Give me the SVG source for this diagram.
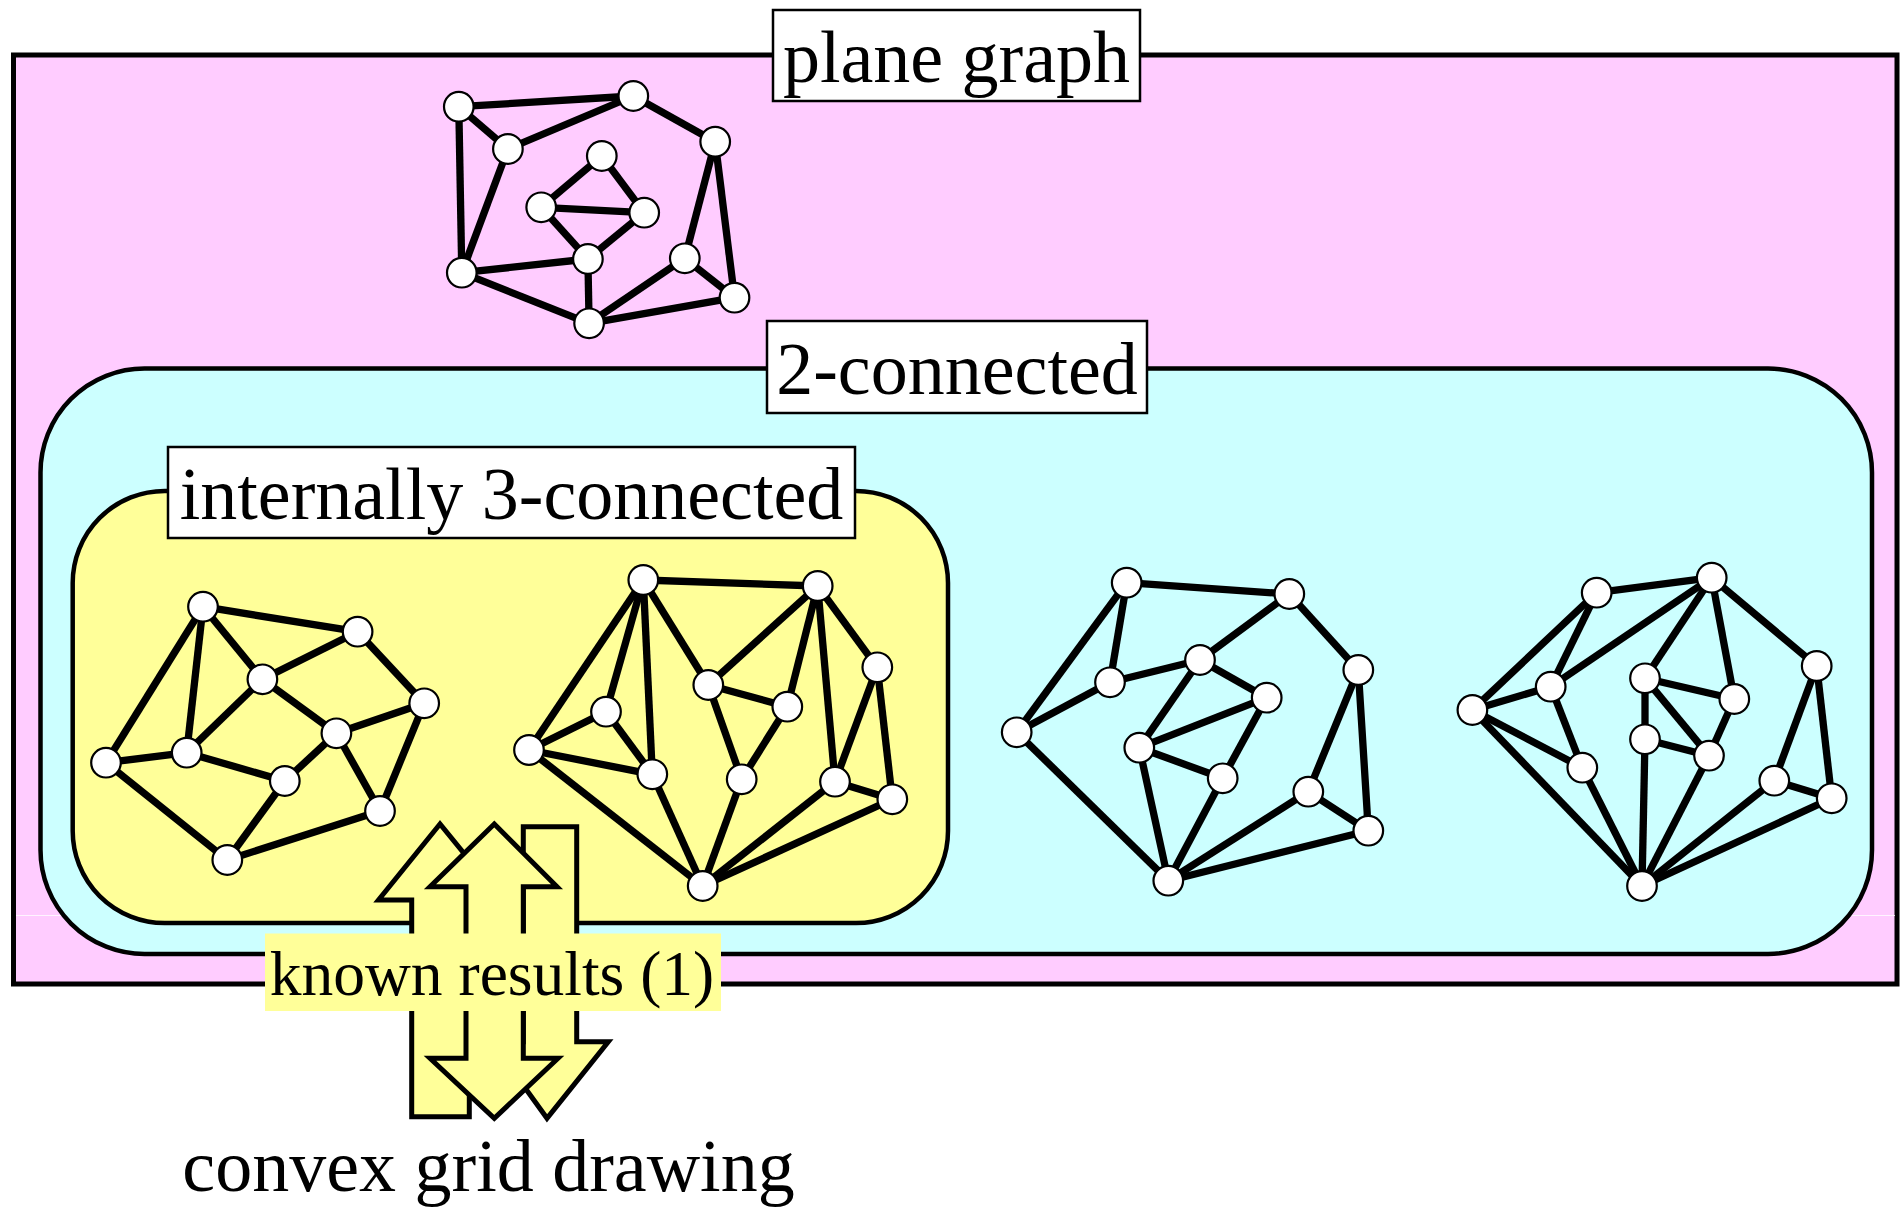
<svg xmlns="http://www.w3.org/2000/svg" width="1901" height="1208" viewBox="0 0 1901 1208">
  <style>
    .region { stroke: #000; }
    .label-box { fill: #fff; stroke: #000; stroke-width: 2.5; }
    .label { font-family: "Liberation Serif", "Times New Roman", serif; font-size: 74px; fill: #000; text-anchor: middle; }
    .e { stroke: #000; stroke-width: 7.3; fill: none; }
    .v { fill: #fff; stroke: #000; stroke-width: 2.2; }
    .arrow { fill: #ffff99; stroke: #000; stroke-width: 5; stroke-linejoin: miter; }
  </style>

  <!-- nested class regions -->
  <rect id="region-plane" class="region" x="13.5" y="55" width="1883.5" height="929" fill="#ffccff" stroke-width="5"/>
  <line x1="16" y1="915.5" x2="1895" y2="915.5" stroke="#ffffff" stroke-width="1" opacity="0.8"/>

  <!-- plane graph -->
  <g id="graph-plane">
    <g id="graph-plane-edges">
      <line class="e" x1="458.8" y1="106.7" x2="633.3" y2="96"/>
      <line class="e" x1="458.8" y1="106.7" x2="507.9" y2="149"/>
      <line class="e" x1="507.9" y1="149" x2="633.3" y2="96"/>
      <line class="e" x1="633.3" y1="96" x2="715.2" y2="141.7"/>
      <line class="e" x1="458.8" y1="106.7" x2="461.8" y2="272.7"/>
      <line class="e" x1="507.9" y1="149" x2="461.8" y2="272.7"/>
      <line class="e" x1="601.8" y1="156" x2="541.2" y2="207.3"/>
      <line class="e" x1="601.8" y1="156" x2="644.2" y2="212.7"/>
      <line class="e" x1="541.2" y1="207.3" x2="644.2" y2="212.7"/>
      <line class="e" x1="541.2" y1="207.3" x2="587.9" y2="259"/>
      <line class="e" x1="644.2" y1="212.7" x2="587.9" y2="259"/>
      <line class="e" x1="461.8" y1="272.7" x2="587.9" y2="259"/>
      <line class="e" x1="461.8" y1="272.7" x2="589.1" y2="323.3"/>
      <line class="e" x1="587.9" y1="259" x2="589.1" y2="323.3"/>
      <line class="e" x1="589.1" y1="323.3" x2="684.8" y2="258.3"/>
      <line class="e" x1="589.1" y1="323.3" x2="734.5" y2="297.7"/>
      <line class="e" x1="684.8" y1="258.3" x2="715.2" y2="141.7"/>
      <line class="e" x1="715.2" y1="141.7" x2="734.5" y2="297.7"/>
      <line class="e" x1="684.8" y1="258.3" x2="734.5" y2="297.7"/>
    </g>
    <g id="pg-n1"><circle class="v" cx="458.8" cy="106.7" r="14.8"/></g>
    <g id="pg-n2"><circle class="v" cx="633.3" cy="96" r="14.8"/></g>
    <g id="pg-n3"><circle class="v" cx="507.9" cy="149" r="14.8"/></g>
    <g id="pg-n4"><circle class="v" cx="715.2" cy="141.7" r="14.8"/></g>
    <g id="pg-n5"><circle class="v" cx="601.8" cy="156" r="14.8"/></g>
    <g id="pg-n6"><circle class="v" cx="541.2" cy="207.3" r="14.8"/></g>
    <g id="pg-n7"><circle class="v" cx="644.2" cy="212.7" r="14.8"/></g>
    <g id="pg-n8"><circle class="v" cx="587.9" cy="259" r="14.8"/></g>
    <g id="pg-n9"><circle class="v" cx="461.8" cy="272.7" r="14.8"/></g>
    <g id="pg-n10"><circle class="v" cx="684.8" cy="258.3" r="14.8"/></g>
    <g id="pg-n11"><circle class="v" cx="734.5" cy="297.7" r="14.8"/></g>
    <g id="pg-n12"><circle class="v" cx="589.1" cy="323.3" r="14.8"/></g>
  </g>

  <rect id="region-2conn" class="region" x="40.5" y="368.5" width="1831.5" height="585.5" rx="104" ry="104" fill="#ccffff" stroke-width="4.5"/>
  <rect id="region-int3" class="region" x="72.7" y="491" width="875.3" height="432" rx="92" ry="92" fill="#ffff99" stroke-width="4.5"/>

  <!-- internally 3-connected example 1 -->
  <g id="graph-a">
    <g id="graph-a-edges">
      <line class="e" x1="203" y1="606.7" x2="357.6" y2="631.7"/>
      <line class="e" x1="203" y1="606.7" x2="106" y2="762.7"/>
      <line class="e" x1="203" y1="606.7" x2="186.7" y2="752.7"/>
      <line class="e" x1="203" y1="606.7" x2="262.4" y2="679.3"/>
      <line class="e" x1="357.6" y1="631.7" x2="262.4" y2="679.3"/>
      <line class="e" x1="357.6" y1="631.7" x2="424.2" y2="703.3"/>
      <line class="e" x1="262.4" y1="679.3" x2="186.7" y2="752.7"/>
      <line class="e" x1="262.4" y1="679.3" x2="336.4" y2="733.3"/>
      <line class="e" x1="336.4" y1="733.3" x2="424.2" y2="703.3"/>
      <line class="e" x1="336.4" y1="733.3" x2="284.8" y2="781"/>
      <line class="e" x1="336.4" y1="733.3" x2="380" y2="811"/>
      <line class="e" x1="424.2" y1="703.3" x2="380" y2="811"/>
      <line class="e" x1="106" y1="762.7" x2="186.7" y2="752.7"/>
      <line class="e" x1="186.7" y1="752.7" x2="284.8" y2="781"/>
      <line class="e" x1="106" y1="762.7" x2="227.3" y2="860"/>
      <line class="e" x1="284.8" y1="781" x2="227.3" y2="860"/>
      <line class="e" x1="227.3" y1="860" x2="380" y2="811"/>
    </g>
    <g id="ga-n1"><circle class="v" cx="203" cy="606.7" r="14.8"/></g>
    <g id="ga-n2"><circle class="v" cx="357.6" cy="631.7" r="14.8"/></g>
    <g id="ga-n3"><circle class="v" cx="262.4" cy="679.3" r="14.8"/></g>
    <g id="ga-n4"><circle class="v" cx="424.2" cy="703.3" r="14.8"/></g>
    <g id="ga-n5"><circle class="v" cx="336.4" cy="733.3" r="14.8"/></g>
    <g id="ga-n6"><circle class="v" cx="186.7" cy="752.7" r="14.8"/></g>
    <g id="ga-n7"><circle class="v" cx="106" cy="762.7" r="14.8"/></g>
    <g id="ga-n8"><circle class="v" cx="284.8" cy="781" r="14.8"/></g>
    <g id="ga-n9"><circle class="v" cx="380" cy="811" r="14.8"/></g>
    <g id="ga-n10"><circle class="v" cx="227.3" cy="860" r="14.8"/></g>
  </g>

  <!-- internally 3-connected example 2 -->
  <g id="graph-b">
    <g id="graph-b-edges">
      <line class="e" x1="643.3" y1="580" x2="817.7" y2="586"/>
      <line class="e" x1="643.3" y1="580" x2="529" y2="750"/>
      <line class="e" x1="643.3" y1="580" x2="606" y2="711.7"/>
      <line class="e" x1="643.3" y1="580" x2="652.3" y2="774.3"/>
      <line class="e" x1="643.3" y1="580" x2="708.3" y2="685"/>
      <line class="e" x1="817.7" y1="586" x2="708.3" y2="685"/>
      <line class="e" x1="817.7" y1="586" x2="787.3" y2="706.7"/>
      <line class="e" x1="817.7" y1="586" x2="835" y2="781.7"/>
      <line class="e" x1="817.7" y1="586" x2="877.3" y2="667.3"/>
      <line class="e" x1="877.3" y1="667.3" x2="835" y2="781.7"/>
      <line class="e" x1="877.3" y1="667.3" x2="892.3" y2="799.3"/>
      <line class="e" x1="835" y1="781.7" x2="892.3" y2="799.3"/>
      <line class="e" x1="708.3" y1="685" x2="787.3" y2="706.7"/>
      <line class="e" x1="708.3" y1="685" x2="741.7" y2="779.3"/>
      <line class="e" x1="787.3" y1="706.7" x2="741.7" y2="779.3"/>
      <line class="e" x1="606" y1="711.7" x2="529" y2="750"/>
      <line class="e" x1="606" y1="711.7" x2="652.3" y2="774.3"/>
      <line class="e" x1="529" y1="750" x2="652.3" y2="774.3"/>
      <line class="e" x1="529" y1="750" x2="702.7" y2="886"/>
      <line class="e" x1="652.3" y1="774.3" x2="702.7" y2="886"/>
      <line class="e" x1="741.7" y1="779.3" x2="702.7" y2="886"/>
      <line class="e" x1="835" y1="781.7" x2="702.7" y2="886"/>
      <line class="e" x1="892.3" y1="799.3" x2="702.7" y2="886"/>
    </g>
    <g id="gb-n1"><circle class="v" cx="643.3" cy="580" r="14.8"/></g>
    <g id="gb-n2"><circle class="v" cx="817.7" cy="586" r="14.8"/></g>
    <g id="gb-n3"><circle class="v" cx="877.3" cy="667.3" r="14.8"/></g>
    <g id="gb-n4"><circle class="v" cx="708.3" cy="685" r="14.8"/></g>
    <g id="gb-n5"><circle class="v" cx="787.3" cy="706.7" r="14.8"/></g>
    <g id="gb-n6"><circle class="v" cx="606" cy="711.7" r="14.8"/></g>
    <g id="gb-n7"><circle class="v" cx="529" cy="750" r="14.8"/></g>
    <g id="gb-n8"><circle class="v" cx="652.3" cy="774.3" r="14.8"/></g>
    <g id="gb-n9"><circle class="v" cx="741.7" cy="779.3" r="14.8"/></g>
    <g id="gb-n10"><circle class="v" cx="835" cy="781.7" r="14.8"/></g>
    <g id="gb-n11"><circle class="v" cx="892.3" cy="799.3" r="14.8"/></g>
    <g id="gb-n12"><circle class="v" cx="702.7" cy="886" r="14.8"/></g>
  </g>

  <!-- 2-connected example 1 -->
  <g id="graph-c">
    <g id="graph-c-edges">
      <line class="e" x1="1126.7" y1="582.7" x2="1289.3" y2="594"/>
      <line class="e" x1="1126.7" y1="582.7" x2="1110" y2="682.3"/>
      <line class="e" x1="1126.7" y1="582.7" x2="1016.7" y2="732.3"/>
      <line class="e" x1="1110" y1="682.3" x2="1016.7" y2="732.3"/>
      <line class="e" x1="1110" y1="682.3" x2="1200" y2="660"/>
      <line class="e" x1="1200" y1="660" x2="1289.3" y2="594"/>
      <line class="e" x1="1289.3" y1="594" x2="1358.3" y2="670"/>
      <line class="e" x1="1200" y1="660" x2="1266.7" y2="697.7"/>
      <line class="e" x1="1200" y1="660" x2="1139.3" y2="747.7"/>
      <line class="e" x1="1139.3" y1="747.7" x2="1266.7" y2="697.7"/>
      <line class="e" x1="1139.3" y1="747.7" x2="1222.7" y2="778.3"/>
      <line class="e" x1="1266.7" y1="697.7" x2="1222.7" y2="778.3"/>
      <line class="e" x1="1139.3" y1="747.7" x2="1168.3" y2="880.7"/>
      <line class="e" x1="1222.7" y1="778.3" x2="1168.3" y2="880.7"/>
      <line class="e" x1="1016.7" y1="732.3" x2="1168.3" y2="880.7"/>
      <line class="e" x1="1358.3" y1="670" x2="1308.3" y2="791.7"/>
      <line class="e" x1="1358.3" y1="670" x2="1368.3" y2="830.7"/>
      <line class="e" x1="1308.3" y1="791.7" x2="1368.3" y2="830.7"/>
      <line class="e" x1="1308.3" y1="791.7" x2="1168.3" y2="880.7"/>
      <line class="e" x1="1368.3" y1="830.7" x2="1168.3" y2="880.7"/>
    </g>
    <g id="gc-n1"><circle class="v" cx="1126.7" cy="582.7" r="14.8"/></g>
    <g id="gc-n2"><circle class="v" cx="1289.3" cy="594" r="14.8"/></g>
    <g id="gc-n3"><circle class="v" cx="1358.3" cy="670" r="14.8"/></g>
    <g id="gc-n4"><circle class="v" cx="1200" cy="660" r="14.8"/></g>
    <g id="gc-n5"><circle class="v" cx="1110" cy="682.3" r="14.8"/></g>
    <g id="gc-n6"><circle class="v" cx="1266.7" cy="697.7" r="14.8"/></g>
    <g id="gc-n7"><circle class="v" cx="1016.7" cy="732.3" r="14.8"/></g>
    <g id="gc-n8"><circle class="v" cx="1139.3" cy="747.7" r="14.8"/></g>
    <g id="gc-n9"><circle class="v" cx="1222.7" cy="778.3" r="14.8"/></g>
    <g id="gc-n10"><circle class="v" cx="1308.3" cy="791.7" r="14.8"/></g>
    <g id="gc-n11"><circle class="v" cx="1368.3" cy="830.7" r="14.8"/></g>
    <g id="gc-n12"><circle class="v" cx="1168.3" cy="880.7" r="14.8"/></g>
  </g>

  <!-- 2-connected example 2 -->
  <g id="graph-d">
    <g id="graph-d-edges">
      <line class="e" x1="1596.7" y1="592.7" x2="1711.7" y2="577.7"/>
      <line class="e" x1="1596.7" y1="592.7" x2="1550.7" y2="686.7"/>
      <line class="e" x1="1596.7" y1="592.7" x2="1472.4" y2="710"/>
      <line class="e" x1="1711.7" y1="577.7" x2="1550.7" y2="686.7"/>
      <line class="e" x1="1711.7" y1="577.7" x2="1645" y2="678.3"/>
      <line class="e" x1="1711.7" y1="577.7" x2="1734.3" y2="699"/>
      <line class="e" x1="1711.7" y1="577.7" x2="1816.7" y2="666"/>
      <line class="e" x1="1645" y1="678.3" x2="1734.3" y2="699"/>
      <line class="e" x1="1645" y1="678.3" x2="1709" y2="755.7"/>
      <line class="e" x1="1645" y1="678.3" x2="1645" y2="739.3"/>
      <line class="e" x1="1645" y1="739.3" x2="1709" y2="755.7"/>
      <line class="e" x1="1734.3" y1="699" x2="1709" y2="755.7"/>
      <line class="e" x1="1550.7" y1="686.7" x2="1582.3" y2="767.7"/>
      <line class="e" x1="1472.4" y1="710" x2="1550.7" y2="686.7"/>
      <line class="e" x1="1472.4" y1="710" x2="1582.3" y2="767.7"/>
      <line class="e" x1="1472.4" y1="710" x2="1642" y2="886"/>
      <line class="e" x1="1582.3" y1="767.7" x2="1642" y2="886"/>
      <line class="e" x1="1645" y1="739.3" x2="1642" y2="886"/>
      <line class="e" x1="1709" y1="755.7" x2="1642" y2="886"/>
      <line class="e" x1="1816.7" y1="666" x2="1774.3" y2="780.7"/>
      <line class="e" x1="1816.7" y1="666" x2="1831.7" y2="798.3"/>
      <line class="e" x1="1774.3" y1="780.7" x2="1831.7" y2="798.3"/>
      <line class="e" x1="1774.3" y1="780.7" x2="1642" y2="886"/>
      <line class="e" x1="1831.7" y1="798.3" x2="1642" y2="886"/>
    </g>
    <g id="gd-n1"><circle class="v" cx="1596.7" cy="592.7" r="14.8"/></g>
    <g id="gd-n2"><circle class="v" cx="1711.7" cy="577.7" r="14.8"/></g>
    <g id="gd-n3"><circle class="v" cx="1816.7" cy="666" r="14.8"/></g>
    <g id="gd-n4"><circle class="v" cx="1645" cy="678.3" r="14.8"/></g>
    <g id="gd-n5"><circle class="v" cx="1550.7" cy="686.7" r="14.8"/></g>
    <g id="gd-n6"><circle class="v" cx="1734.3" cy="699" r="14.8"/></g>
    <g id="gd-n7"><circle class="v" cx="1472.4" cy="710" r="14.8"/></g>
    <g id="gd-n8"><circle class="v" cx="1645" cy="739.3" r="14.8"/></g>
    <g id="gd-n9"><circle class="v" cx="1709" cy="755.7" r="14.8"/></g>
    <g id="gd-n10"><circle class="v" cx="1582.3" cy="767.7" r="14.8"/></g>
    <g id="gd-n11"><circle class="v" cx="1774.3" cy="780.7" r="14.8"/></g>
    <g id="gd-n12"><circle class="v" cx="1831.7" cy="798.3" r="14.8"/></g>
    <g id="gd-n13"><circle class="v" cx="1642" cy="886" r="14.8"/></g>
  </g>

  <!-- region labels -->
  <g id="label-plane">
    <rect class="label-box" x="773" y="10" width="367" height="91"/>
    <text class="label" x="956.5" y="82">plane graph</text>
  </g>
  <g id="label-2conn">
    <rect class="label-box" x="767" y="321" width="380" height="92"/>
    <text class="label" x="957" y="394">2-connected</text>
  </g>
  <g id="label-int3">
    <rect class="label-box" x="168" y="447" width="687" height="91"/>
    <text class="label" x="511.5" y="519">internally 3-connected</text>
  </g>

  <!-- equivalence arrows -->
  <g id="arrows">
    <path class="arrow" d="M440,824 L378.5,900 L411.7,900 L411.7,1116.7 L469.3,1116.7 L469.3,900 L502,900 Z"/>
    <path class="arrow" d="M523.3,826.7 L576.7,826.7 L576.7,1041.7 L608.3,1041.7 L547,1118.3 L491.7,1041.7 L523.3,1041.7 Z"/>
    <path class="arrow" d="M494.3,824 L430,886.7 L466,886.7 L466,1058.3 L430,1058.3 L494.3,1118.3 L558,1058.3 L523.3,1058.3 L523.3,886.7 L557,886.7 Z"/>
  </g>
  <g id="label-known">
    <rect x="265" y="933.5" width="456" height="77.5" fill="#ffff99"/>
    <text x="492" y="995" font-family="Liberation Serif, 'Times New Roman', serif" font-size="63.5" text-anchor="middle">known results (1)</text>
  </g>
  <g id="label-convex">
    <text class="label" x="488.5" y="1191">convex grid drawing</text>
  </g>
</svg>
